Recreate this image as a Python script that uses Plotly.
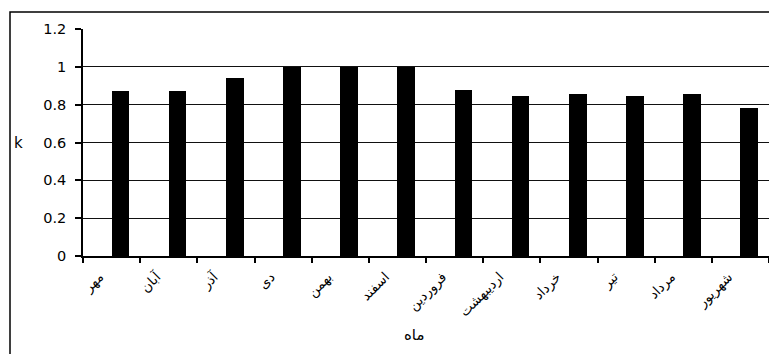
import plotly.graph_objects as go

# Persian calendar months, in the order they are plotted
months = ["مهر", "آبان", "آذر", "دی", "بهمن", "اسفند",
          "فروردین", "اردیبهشت", "خرداد", "تیر", "مرداد", "شهریور"]
# monthly k coefficient
k_values = [0.87, 0.87, 0.94, 1.0, 1.0, 1.0, 0.88, 0.845, 0.855, 0.845, 0.855, 0.78]

y_tick_vals = [0, 0.2, 0.4, 0.6, 0.8, 1.0, 1.2]
y_tick_text = ["0", "0.2", "0.4", "0.6", "0.8", "1", "1.2"]

W, H = 769, 354
ML, MR, MT, MB = 83, 0, 29, 98
PW, PH = W - ML - MR, H - MT - MB


def px_x(px):
    return (px - ML) / PW


def px_y(py):
    return (H - MB - py) / PH


FONT = "DejaVu Sans, sans-serif"

fig = go.Figure(
    go.Bar(
        x=months,
        y=k_values,
        width=0.31,
        offset=0.0,
        marker=dict(color="black", line=dict(width=0)),
        showlegend=False,
    )
)

fig.update_layout(
    width=W,
    height=H,
    margin=dict(l=ML, r=MR, t=MT, b=MB, pad=0),
    paper_bgcolor="white",
    plot_bgcolor="white",
    font=dict(family=FONT, color="black"),
    xaxis=dict(
        type="category",
        tickson="boundaries",
        ticks="outside",
        ticklen=5,
        tickwidth=1.5,
        tickcolor="black",
        showline=True,
        linecolor="black",
        linewidth=1.5,
        showgrid=False,
        tickangle=-45,
        ticklabelshift=-12,
        ticklabelstandoff=6,
        tickfont=dict(size=13.5, family=FONT, color="black"),
    ),
    yaxis=dict(
        range=[0, 1.2],
        tickmode="array",
        tickvals=y_tick_vals,
        ticktext=y_tick_text,
        ticks="outside",
        ticklen=6,
        tickwidth=1.5,
        tickcolor="black",
        ticklabelstandoff=6,
        showline=True,
        linecolor="black",
        linewidth=1.5,
        showgrid=True,
        gridcolor="#111111",
        gridwidth=1.2,
        zeroline=False,
        tickfont=dict(size=14.5, family=FONT, color="black"),
    ),
    bargap=0,
)

# axis titles
fig.add_annotation(
    text="k", xref="paper", yref="y", x=px_x(18), y=0.6,
    showarrow=False, xanchor="center", yanchor="middle",
    font=dict(size=15, family=FONT, color="black"),
)
fig.add_annotation(
    text="ماه", xref="paper", yref="paper", x=px_x(414), y=px_y(335),
    showarrow=False, xanchor="center", yanchor="middle",
    font=dict(size=15, family=FONT, color="black"),
)

# chart-area frame
fig.add_shape(
    type="rect", xref="paper", yref="paper",
    x0=px_x(10), x1=px_x(800), y0=px_y(400), y1=px_y(12),
    line=dict(color="black", width=1.5), fillcolor="rgba(0,0,0,0)",
    layer="below",
)

fig.write_html("out.html")
